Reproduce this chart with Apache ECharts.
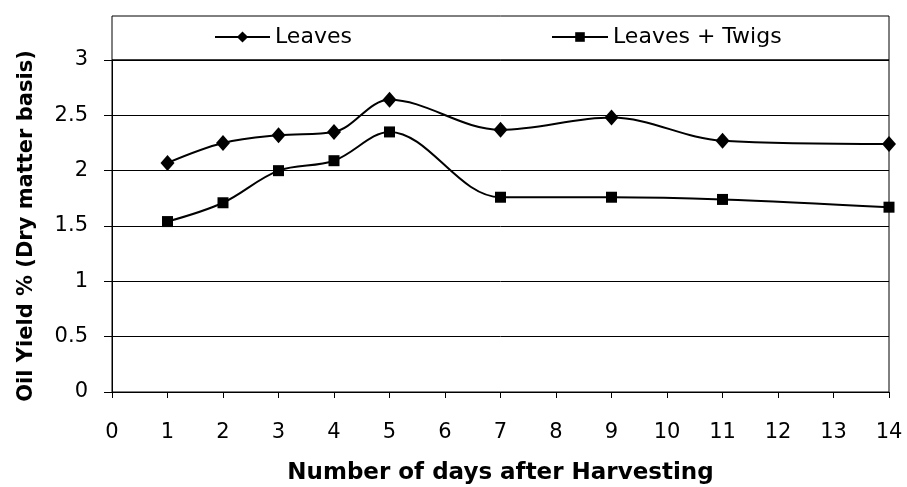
<!DOCTYPE html>
<html><head><meta charset="utf-8">
<script src="https://cdn.jsdelivr.net/npm/echarts@6/dist/echarts.min.js"></script>
<style>html,body{margin:0;padding:0;background:#fff}#c{width:907px;height:487px}</style>
</head><body><div id="c"></div>
<script>
const days = [1, 2, 3, 4, 5, 7, 9, 11, 14];
const leaves = [2.07, 2.25, 2.32, 2.35, 2.64, 2.37, 2.48, 2.27, 2.24];
const leavesTwigs = [1.54, 1.71, 2.00, 2.09, 2.35, 1.76, 1.76, 1.74, 1.67];
const xTitle = 'Number of days after Harvesting';
const yTitle = 'Oil Yield % (Dry matter basis)';

const font = 'DejaVu Sans, sans-serif';
const chart = echarts.init(document.getElementById('c'), null, {renderer: 'canvas'});
chart.setOption({
  animation: false,
  backgroundColor: '#fff',
  grid: {left: 112, right: 18, top: 60, bottom: 95, show: true, borderColor: '#000', borderWidth: 1,
         containLabel: false, outerBoundsMode: 'none'},
  graphic: [{
    type: 'rect', shape: {x: 112, y: 16, width: 777, height: 44},
    style: {fill: 'none', stroke: '#000', lineWidth: 1}
  }],
  legend: [{
    data: ['Leaves'], left: 209, top: 21, itemWidth: 55, itemHeight: 14,
    textStyle: {fontFamily: font, fontSize: 22, color: '#000'}
  }, {
    data: ['Leaves + Twigs'], left: 546, top: 21, itemWidth: 56, itemHeight: 12,
    textStyle: {fontFamily: font, fontSize: 22, color: '#000'}
  }],
  xAxis: {
    type: 'value', min: 0, max: 14, interval: 1,
    name: xTitle, nameLocation: 'middle', nameGap: 70,
    nameTextStyle: {fontFamily: font, fontSize: 23, fontWeight: 'bold', color: '#000'},
    axisLine: {lineStyle: {color: '#000', width: 1}},
    axisTick: {show: true, length: 6, lineStyle: {color: '#000'}},
    axisLabel: {fontFamily: font, fontSize: 21, color: '#000', margin: 30},
    splitLine: {show: false}
  },
  yAxis: {
    type: 'value', min: 0, max: 3, interval: 0.5,
    name: yTitle, nameLocation: 'middle', nameGap: 75,
    nameTextStyle: {fontFamily: font, fontSize: 21, fontWeight: 'bold', color: '#000'},
    axisLine: {show: true, lineStyle: {color: '#000', width: 1}},
    axisTick: {show: true, length: 8, lineStyle: {color: '#000'}},
    axisLabel: {fontFamily: font, fontSize: 21, color: '#000', margin: 24},
    splitLine: {show: true, lineStyle: {color: '#000', width: 1}}
  },
  series: [{
    name: 'Leaves', type: 'line', smooth: 0.35,
    data: days.map((d, i) => [d, leaves[i]]),
    symbol: 'diamond', symbolSize: [14, 16],
    lineStyle: {color: '#000', width: 2}, itemStyle: {color: '#000'}
  }, {
    name: 'Leaves + Twigs', type: 'line', smooth: 0.35,
    data: days.map((d, i) => [d, leavesTwigs[i]]),
    symbol: 'rect', symbolSize: 11,
    lineStyle: {color: '#000', width: 2}, itemStyle: {color: '#000'}
  }]
});
</script></body></html>
